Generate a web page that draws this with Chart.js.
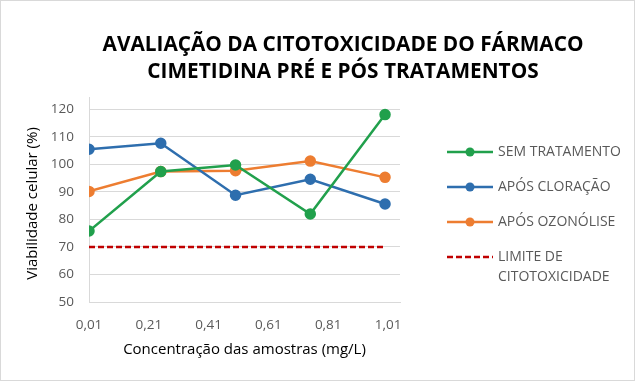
<!DOCTYPE html>
<html>
<head>
<meta charset="utf-8">
<script src="https://cdn.jsdelivr.net/npm/chart.js@4.4.1/dist/chart.umd.min.js"></script>
<style>
html, body { margin: 0; padding: 0; background: #fff; }
#wrap { position: relative; width: 633px; height: 379px; border: 1px solid #d9d9d9; }
</style>
</head>
<body>
<div id="wrap"><canvas id="myChart"></canvas></div>
<script>
const titleLines = ['AVALIAÇÃO DA CITOTOXICIDADE DO FÁRMACO', 'CIMETIDINA PRÉ E PÓS TRATAMENTOS'];
const yTitle = 'Viabilidade celular (%)';
const concentrations = [0.01, 0.25, 0.5, 0.75, 1.0];
const semTratamento = [75.8, 97.4, 99.8, 82.0, 118.1];
const aposCloracao = [105.5, 107.7, 88.8, 94.6, 85.6];
const aposOzonolise = [90.2, 97.4, 97.7, 101.2, 95.3];
const limiteX = [0.01, 1.0];
const limiteY = [70, 70];
const xTicks = [0.01, 0.21, 0.41, 0.61, 0.81, 1.01];
const yTicks = [50, 60, 70, 80, 90, 100, 110, 120];
const legendLabels = [['SEM TRATAMENTO'], ['APÓS CLORAÇÃO'], ['APÓS OZONÓLISE'], ['LIMITE DE', 'CITOTOXICIDADE']];

const FONT = "'Open Sans', sans-serif";
const GREY = '#595959';

function toPoints(xs, ys) {
    return xs.map((x, i) => ({ x: x, y: ys[i] }));
}

// title, y axis title and legend drawn by hand, Excel-style layout
const extrasPlugin = {
    id: 'extras',
    afterDraw(chart) {
        const ctx = chart.ctx;
        const area = chart.chartArea;
        ctx.save();
        ctx.fillStyle = '#000';
        ctx.font = "bold 20.8px " + FONT;
        ctx.textAlign = 'center';
        ctx.textBaseline = 'middle';
        titleLines.forEach((t, i) => ctx.fillText(t, 342, 44 + i * 27));

        ctx.save();
        ctx.font = "15px " + FONT;
        ctx.translate(32, (area.top + area.bottom) / 2 + 4);
        ctx.rotate(-Math.PI / 2);
        ctx.fillText(yTitle, 0, 0);
        ctx.restore();

        const lx = area.right + 47;
        let ly = area.top + 55;
        ctx.font = "14px " + FONT;
        ctx.textAlign = 'left';
        chart.data.datasets.forEach((ds, i) => {
            ctx.strokeStyle = ds.borderColor;
            ctx.lineWidth = ds.borderWidth;
            ctx.setLineDash(ds.borderDash || []);
            ctx.beginPath();
            ctx.moveTo(lx, ly);
            ctx.lineTo(lx + 46, ly);
            ctx.stroke();
            ctx.setLineDash([]);
            if (ds.pointRadius > 0) {
                ctx.fillStyle = ds.borderColor;
                ctx.beginPath();
                ctx.arc(lx + 23, ly, ds.pointRadius, 0, Math.PI * 2);
                ctx.fill();
            }
            ctx.fillStyle = GREY;
            legendLabels[i].forEach((t, j) => ctx.fillText(t, lx + 51, ly + j * 20));
            ly += 35;
        });
        ctx.restore();
    }
};

const ctx = document.getElementById('myChart');
new Chart(ctx, {
    type: 'line',
    data: {
        datasets: [
            { label: 'SEM TRATAMENTO', data: toPoints(concentrations, semTratamento), borderColor: '#21a04c', backgroundColor: '#21a04c', borderWidth: 2.5, pointRadius: 4.5 },
            { label: 'APÓS CLORAÇÃO', data: toPoints(concentrations, aposCloracao), borderColor: '#2e6eae', backgroundColor: '#2e6eae', borderWidth: 2.5, pointRadius: 4.5 },
            { label: 'APÓS OZONÓLISE', data: toPoints(concentrations, aposOzonolise), borderColor: '#ed7d31', backgroundColor: '#ed7d31', borderWidth: 2.5, pointRadius: 4.5 },
            { label: 'LIMITE DE CITOTOXICIDADE', data: toPoints(limiteX, limiteY), borderColor: '#c00000', backgroundColor: '#c00000', borderWidth: 2.5, borderDash: [6, 3], pointRadius: 0 }
        ]
    },
    options: {
        responsive: true,
        maintainAspectRatio: false,
        animation: false,
        layout: { padding: { left: 0, right: 234, top: 96, bottom: 10 } },
        plugins: { legend: { display: false }, title: { display: false }, tooltip: { enabled: false } },
        scales: {
            x: {
                type: 'linear',
                min: 0.01,
                max: 1.05,
                afterBuildTicks: s => { s.ticks = xTicks.map(v => ({ value: v })); },
                afterFit: s => { s.height = 68; },
                grid: { display: false },
                border: { color: '#d9d9d9' },
                ticks: { padding: 7, color: GREY, font: { family: FONT, size: 13.5 }, callback: v => v.toFixed(2).replace('.', ',') },
                title: { display: true, text: 'Concentração das amostras (mg/L)', color: '#000', padding: { top: 0, bottom: 11 }, font: { family: FONT, size: 15 } }
            },
            y: {
                min: 50,
                max: 124.5,
                afterBuildTicks: s => { s.ticks = yTicks.map(v => ({ value: v })); },
                afterFit: s => { s.width = 88; },
                grid: { color: '#d9d9d9', drawTicks: false },
                border: { color: '#d9d9d9' },
                ticks: { padding: 15, color: GREY, font: { family: FONT, size: 13.5 } }
            }
        }
    },
    plugins: [extrasPlugin]
});
</script>
</body>
</html>
